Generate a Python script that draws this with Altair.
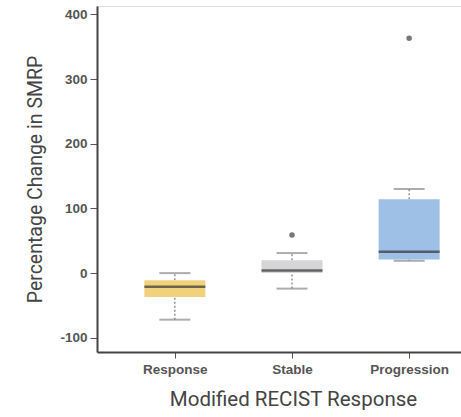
import altair as alt
import pandas as pd

categories = ["Response", "Stable", "Progression"]
positions = [1, 2, 3]
whisker_lo = [-72, -24, 19]
q1 = [-37, 0, 21]
median = [-21, 4, 33]
q3 = [-11, 20, 114]
whisker_hi = [0, 31, 130]
colors = ["#F0D27C", "#D6D6D8", "#9EBFE6"]
outlier_cat = [2, 3]
outlier_val = [59, 363]

df = pd.DataFrame({
    "cat": categories, "pos": positions, "lo": whisker_lo, "q1": q1,
    "med": median, "q3": q3, "hi": whisker_hi, "color": colors,
})
out = pd.DataFrame({"pos": outlier_cat, "val": outlier_val})

FONT = "Roboto"
label_expr = "datum.value == 1 ? 'Response' : datum.value == 2 ? 'Stable' : datum.value == 3 ? 'Progression' : ''"

xs = alt.Scale(domain=[0.378, 3.40], nice=False, zero=False)
ys = alt.Scale(domain=[-122, 413], nice=False, zero=False)

xenc = alt.X("pos:Q", scale=xs, axis=alt.Axis(
    values=positions, labelExpr=label_expr, title="Modified RECIST Response",
    grid=False, domainColor="#444", domainWidth=2, tickColor="#555", tickSize=6,
    tickWidth=1, labelFont="Liberation Sans", labelFontWeight="bold", labelFontSize=13.5,
    labelColor="#555", labelPadding=4, titleFont=FONT, titleFontSize=20.5,
    titleFontWeight="normal", titleColor="#444", titlePadding=14, titleX=196))

base = alt.Chart(df)

lower = base.mark_rule(color="#777", strokeDash=[2, 2], strokeWidth=1.2).encode(
    x=xenc,
    y=alt.Y("lo:Q", scale=ys, axis=alt.Axis(
        values=[-100, 0, 100, 200, 300, 400], title="Percentage Change in SMRP",
        labelExpr="replace(format(datum.value, 'd'), '−', '-')",
        grid=False, domainColor="#444", domainWidth=2, tickColor="#555", tickSize=7,
        tickWidth=1, labelFont="Liberation Sans", labelFontWeight="bold", labelFontSize=13.5,
        labelColor="#555", labelPadding=3, titleFont=FONT, titleFontSize=19.5,
        titleFontWeight="normal", titleColor="#444", titlePadding=14)),
    y2="q1:Q")
upper = base.mark_rule(color="#777", strokeDash=[2, 2], strokeWidth=1.2).encode(
    x="pos:Q", y="q3:Q", y2="hi:Q")
box = base.mark_bar(size=61).encode(
    x="pos:Q", y="q1:Q", y2="q3:Q", color=alt.Color("color:N", scale=None))
med = base.mark_tick(orient="horizontal", size=61, thickness=2.5, color="#333").encode(
    x="pos:Q", y="med:Q")
cap_lo = base.mark_tick(orient="horizontal", size=31, thickness=2, color="#8a8a8a").encode(
    x="pos:Q", y="lo:Q")
cap_hi = base.mark_tick(orient="horizontal", size=31, thickness=2, color="#8a8a8a").encode(
    x="pos:Q", y="hi:Q")
pts = alt.Chart(out).mark_circle(size=30, color="#777", opacity=1).encode(
    x="pos:Q", y="val:Q")

chart = alt.layer(lower, upper, box, med, cap_lo, cap_hi, pts).properties(
    width=364, height=346,
    padding={"left": 97, "top": 6, "right": 0, "bottom": 65},
    autosize=alt.AutoSizeParams(type="none"),
).configure_view(stroke=None).configure(background="white")

chart.save("out.html", embed_options={"renderer": "svg", "actions": False})
